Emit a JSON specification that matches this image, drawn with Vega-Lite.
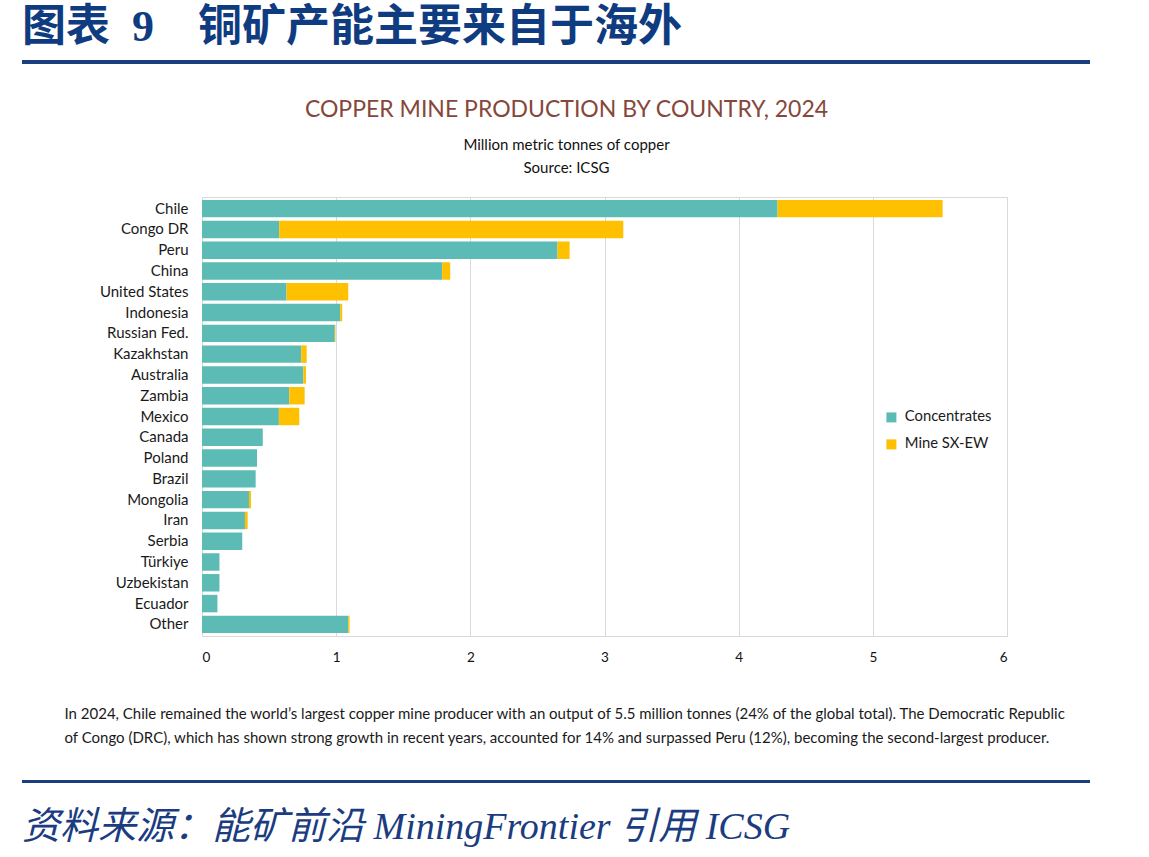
{
  "$schema": "https://vega.github.io/schema/vega-lite/v6.json",
  "background": "white",
  "padding": {"left": 22, "top": 6, "right": 20, "bottom": 4},
  "spacing": 34,
  "resolve": {"scale": {"color": "independent"}, "legend": {"color": "independent"}},
  "config": {"view": {"stroke": null}, "font": "Lato"},
  "title": {
    "text": "资料来源：能矿前沿 MiningFrontier 引用 ICSG",
    "orient": "bottom",
    "anchor": "start",
    "font": "Liberation Serif, Noto Sans CJK SC",
    "fontStyle": "italic",
    "fontWeight": "normal",
    "fontSize": 38,
    "color": "#1B3C7F",
    "offset": 26
  },
  "vconcat": [
    {
      "width": 1068,
      "height": 4,
      "data": {"values": [{}]},
      "mark": {"type": "rect", "color": "#1B3F7E"},
      "encoding": {},
      "title": {
        "text": "图表\u20029　铜矿产能主要来自于海外",
        "anchor": "start",
        "font": "Liberation Serif, Noto Sans CJK SC",
        "fontWeight": "bold",
        "fontSize": 44,
        "color": "#0F3B80",
        "offset": 10
      }
    },
    {
      "spacing": 0,
      "resolve": {"scale": {"color": "independent"}, "legend": {"color": "independent"}},
      "hconcat": [
        {
          "width": 1,
          "height": 1,
          "data": {"values": [{}]},
          "mark": {"type": "rect", "opacity": 0},
          "encoding": {}
        },
        {
          "width": 805,
          "height": 439,
          "view": {"stroke": "#d9d9d9"},
          "title": {
            "text": "COPPER MINE PRODUCTION BY COUNTRY, 2024",
            "subtitle": ["Million metric tonnes of copper", "Source: ICSG"],
            "anchor": "middle",
            "dx": -38,
            "font": "Lato",
            "fontSize": 23,
            "fontWeight": "normal",
            "color": "#86473A",
            "subtitleFont": "Lato",
            "subtitleFontSize": 15,
            "subtitleColor": "#111111",
            "subtitleLineHeight": 23,
            "subtitlePadding": 16,
            "offset": 21
          },
          "data": {
            "values": [
              {"country": "Chile", "type": "Concentrates", "k": 1, "value": 4.29},
              {"country": "Chile", "type": "Mine SX-EW", "k": 2, "value": 1.23},
              {"country": "Congo DR", "type": "Concentrates", "k": 1, "value": 0.575},
              {"country": "Congo DR", "type": "Mine SX-EW", "k": 2, "value": 2.565},
              {"country": "Peru", "type": "Concentrates", "k": 1, "value": 2.65},
              {"country": "Peru", "type": "Mine SX-EW", "k": 2, "value": 0.09},
              {"country": "China", "type": "Concentrates", "k": 1, "value": 1.79},
              {"country": "China", "type": "Mine SX-EW", "k": 2, "value": 0.06},
              {"country": "United States", "type": "Concentrates", "k": 1, "value": 0.63},
              {"country": "United States", "type": "Mine SX-EW", "k": 2, "value": 0.46},
              {"country": "Indonesia", "type": "Concentrates", "k": 1, "value": 1.03},
              {"country": "Indonesia", "type": "Mine SX-EW", "k": 2, "value": 0.015},
              {"country": "Russian Fed.", "type": "Concentrates", "k": 1, "value": 0.99},
              {"country": "Russian Fed.", "type": "Mine SX-EW", "k": 2, "value": 0.005},
              {"country": "Kazakhstan", "type": "Concentrates", "k": 1, "value": 0.74},
              {"country": "Kazakhstan", "type": "Mine SX-EW", "k": 2, "value": 0.04},
              {"country": "Australia", "type": "Concentrates", "k": 1, "value": 0.755},
              {"country": "Australia", "type": "Mine SX-EW", "k": 2, "value": 0.02},
              {"country": "Zambia", "type": "Concentrates", "k": 1, "value": 0.65},
              {"country": "Zambia", "type": "Mine SX-EW", "k": 2, "value": 0.115},
              {"country": "Mexico", "type": "Concentrates", "k": 1, "value": 0.573},
              {"country": "Mexico", "type": "Mine SX-EW", "k": 2, "value": 0.152},
              {"country": "Canada", "type": "Concentrates", "k": 1, "value": 0.453},
              {"country": "Poland", "type": "Concentrates", "k": 1, "value": 0.41},
              {"country": "Brazil", "type": "Concentrates", "k": 1, "value": 0.4},
              {"country": "Mongolia", "type": "Concentrates", "k": 1, "value": 0.35},
              {"country": "Mongolia", "type": "Mine SX-EW", "k": 2, "value": 0.015},
              {"country": "Iran", "type": "Concentrates", "k": 1, "value": 0.32},
              {"country": "Iran", "type": "Mine SX-EW", "k": 2, "value": 0.02},
              {"country": "Serbia", "type": "Concentrates", "k": 1, "value": 0.3},
              {"country": "Türkiye", "type": "Concentrates", "k": 1, "value": 0.13},
              {"country": "Uzbekistan", "type": "Concentrates", "k": 1, "value": 0.13},
              {"country": "Ecuador", "type": "Concentrates", "k": 1, "value": 0.115},
              {"country": "Other", "type": "Concentrates", "k": 1, "value": 1.09},
              {"country": "Other", "type": "Mine SX-EW", "k": 2, "value": 0.01}
            ]
          },
          "mark": {"type": "bar"},
          "encoding": {
            "y": {
              "field": "country",
              "type": "nominal",
              "sort": null,
              "scale": {"paddingInner": 0.16, "paddingOuter": 0.14},
              "axis": {
                "title": null,
                "domain": false,
                "ticks": false,
                "grid": false,
                "labelPadding": 14,
                "labelFontSize": 15,
                "labelColor": "#1a1a1a",
                "labelFont": "Lato",
                "minExtent": 178
              }
            },
            "x": {
              "field": "value",
              "type": "quantitative",
              "stack": "zero",
              "scale": {"domain": [0, 6], "nice": false},
              "axis": {
                "title": [
                  "In 2024, Chile remained the world’s largest copper mine producer with an output of 5.5 million tonnes (24% of the global total). The Democratic Republic",
                  "of Congo (DRC), which has shown strong growth in recent years, accounted for 14% and surpassed Peru (12%), becoming the second-largest producer."
                ],
                "titleAnchor": "start",
                "titleAlign": "left",
                "titleBaseline": "top",
                "titleX": -138,
                "titleY": 70,
                "titleFont": "Lato",
                "titleFontSize": 15,
                "titleFontWeight": "normal",
                "titleColor": "#1a1a1a",
                "titleLineHeight": 24,
                "domain": false,
                "ticks": false,
                "grid": true,
                "gridColor": "#d9d9d9",
                "tickCount": 6,
                "labelPadding": 14,
                "labelFontSize": 13.5,
                "labelColor": "#111111",
                "labelFont": "Lato"
              }
            },
            "color": {
              "field": "type",
              "type": "nominal",
              "scale": {"domain": ["Concentrates", "Mine SX-EW"], "range": ["#5CBBB5", "#FFC000"]},
              "legend": {
                "title": null,
                "orient": "none",
                "legendX": 682,
                "legendY": 213,
                "symbolType": "square",
                "symbolSize": 100,
                "symbolStrokeWidth": 0,
                "labelFontSize": 14.8,
                "labelColor": "#1a1a1a",
                "labelFont": "Lato",
                "rowPadding": 11,
                "labelOffset": 6
              }
            },
            "order": {"field": "k", "type": "quantitative"}
          }
        }
      ]
    },
    {
      "width": 1068,
      "height": 3,
      "data": {"values": [{}]},
      "mark": {"type": "rect", "color": "#1B3F7E"},
      "encoding": {}
    }
  ]
}
